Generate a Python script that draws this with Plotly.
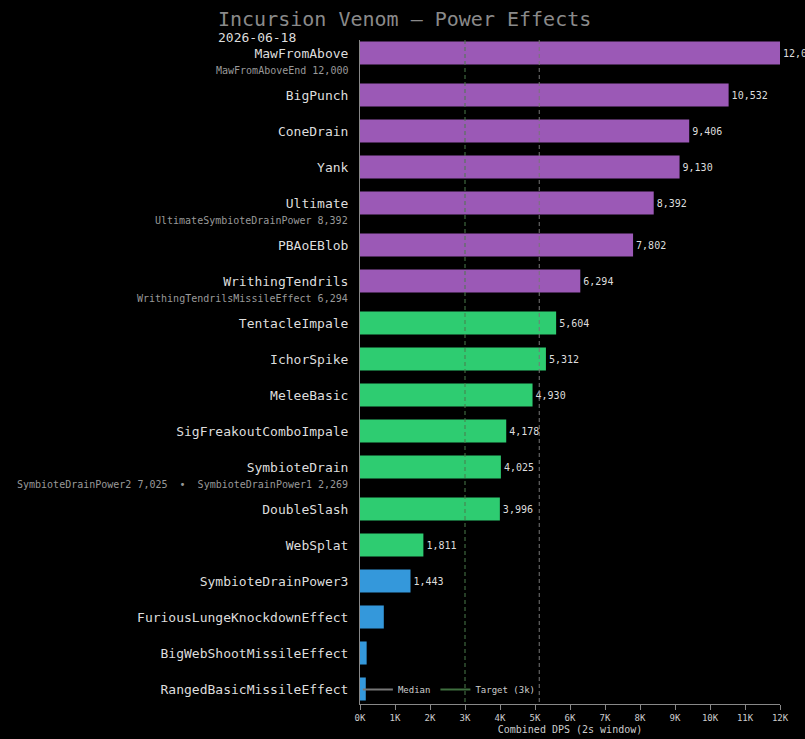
import plotly.graph_objects as go

# ---- data ----
powers = ["MawFromAbove", "BigPunch", "ConeDrain", "Yank", "Ultimate", "PBAoEBlob",
          "WrithingTendrils", "TentacleImpale", "IchorSpike", "MeleeBasic",
          "SigFreakoutComboImpale", "SymbioteDrain", "DoubleSlash", "WebSplat",
          "SymbioteDrainPower3", "FuriousLungeKnockdownEffect",
          "BigWebShootMissileEffect", "RangedBasicMissileEffect"]
dps = [12000, 10532, 9406, 9130, 8392, 7802, 6294, 5604, 5312, 4930, 4178, 4025,
       3996, 1811, 1443, 680, 190, 165]
tiers = ["high"] * 7 + ["mid"] * 7 + ["low"] * 4
sublabels = ["MawFromAboveEnd 12,000", "", "", "", "UltimateSymbioteDrainPower 8,392", "",
             "WrithingTendrilsMissileEffect 6,294", "", "", "", "",
             "SymbioteDrainPower2 7,025  \u2022  SymbioteDrainPower1 2,269",
             "", "", "", "", "", ""]
target = 3000
x_ticks = list(range(0, 13000, 1000))
x_tick_labels = [f"{v // 1000}K" for v in x_ticks]
title = "Incursion Venom \u2014 Power Effects"
date_label = "2026-06-18"
x_title = "Combined DPS (2s window)"

# ---- styling ----
tier_colors = {"high": "#9b59b6", "mid": "#2ecc71", "low": "#3498db"}
FONT = "DejaVu Sans Mono"
W, H = 805, 739
ML, MR, MT, MB = 360, 25, 40, 35
pw = W - ML - MR
ph = H - MT - MB

# row positions: sublabel rows get a little extra space after them
pos = []
y = 0.0
for s in sublabels:
    pos.append(y)
    y += 1.0 + (1 / 6 if s else 0)

srt = sorted(dps)
n = len(srt)
median = (srt[n // 2 - 1] + srt[n // 2]) / 2 if n % 2 == 0 else srt[n // 2]

y_lo = pos[0] - 13 / 36
y_hi = pos[-1] + 15 / 36

fig = go.Figure()
# reference lines (dashed), drawn under bars
fig.add_trace(go.Scatter(x=[median, median], y=[y_lo, y_hi], mode="lines",
                         line=dict(color="#777777", width=1, dash="4px,3px"),
                         showlegend=False, hoverinfo="skip"))
fig.add_trace(go.Scatter(x=[target, target], y=[y_lo, y_hi], mode="lines",
                         line=dict(color="#4a7a4a", width=1, dash="4px,3px"),
                         showlegend=False, hoverinfo="skip"))
fig.add_trace(go.Bar(
    x=dps, y=pos, orientation="h", width=0.64,
    marker=dict(color=[tier_colors[t] for t in tiers], line=dict(width=0)),
    text=[f"{v:,}" if v >= 1000 else "" for v in dps],
    textposition="outside", cliponaxis=False, constraintext="none",
    textfont=dict(family=FONT, size=10, color="#dddddd"),
    showlegend=False, hoverinfo="skip",
))
# legend entries
fig.add_trace(go.Scatter(x=[None], y=[None], mode="lines", name="Median",
                         line=dict(color="#777777", width=2)))
fig.add_trace(go.Scatter(x=[None], y=[None], mode="lines", name="Target (3k)",
                         line=dict(color="#3f6f3f", width=2)))

for p, s in zip(pos, sublabels):
    if s:
        fig.add_annotation(x=0, xref="paper", y=p, yref="y", yshift=-17,
                           xanchor="right", xshift=-10, text=s, showarrow=False,
                           font=dict(family=FONT, size=10, color="#999999"))

fig.add_annotation(x=(216 - ML) / pw, xref="paper", y=1 + (MT - 19) / ph, yref="paper",
                   xanchor="left", yanchor="middle", text=title, showarrow=False,
                   font=dict(family=FONT, size=20, color="#8a8a8a"))
fig.add_annotation(x=(216 - ML) / pw, xref="paper", y=1 + (MT - 38) / ph, yref="paper",
                   xanchor="left", yanchor="middle", text=date_label, showarrow=False,
                   font=dict(family=FONT, size=13, color="#dddddd"))

fig.update_layout(
    width=W, height=H,
    paper_bgcolor="#000000", plot_bgcolor="#000000",
    margin=dict(l=ML, r=MR, t=MT, b=MB, autoexpand=False),
    font=dict(family=FONT, color="#dddddd"),
    showlegend=True,
    legend=dict(orientation="h", x=-0.005, y=0.0, xanchor="left", yanchor="bottom",
                bgcolor="rgba(0,0,0,0)", font=dict(family=FONT, size=9, color="#cccccc"),
                itemwidth=30, tracegroupgap=0),
    xaxis=dict(range=[0, 12000], tickvals=x_ticks, ticktext=x_tick_labels,
               showgrid=False, zeroline=False, showline=True, linecolor="#888888",
               linewidth=1, ticks="outside", ticklen=5, tickcolor="#888888",
               tickfont=dict(family=FONT, size=9, color="#cccccc"),
               title=dict(text=x_title, font=dict(family=FONT, size=10, color="#cccccc"),
                          standoff=4),
               automargin=False, fixedrange=True),
    yaxis=dict(range=[y_hi, y_lo], tickvals=pos, ticktext=powers,
               showgrid=False, zeroline=False, showline=True, linecolor="#888888",
               linewidth=1, ticks="", ticklabelstandoff=8,
               tickfont=dict(family=FONT, size=13, color="#dddddd"),
               automargin=False, fixedrange=True),
)

fig.write_html("out.html")
